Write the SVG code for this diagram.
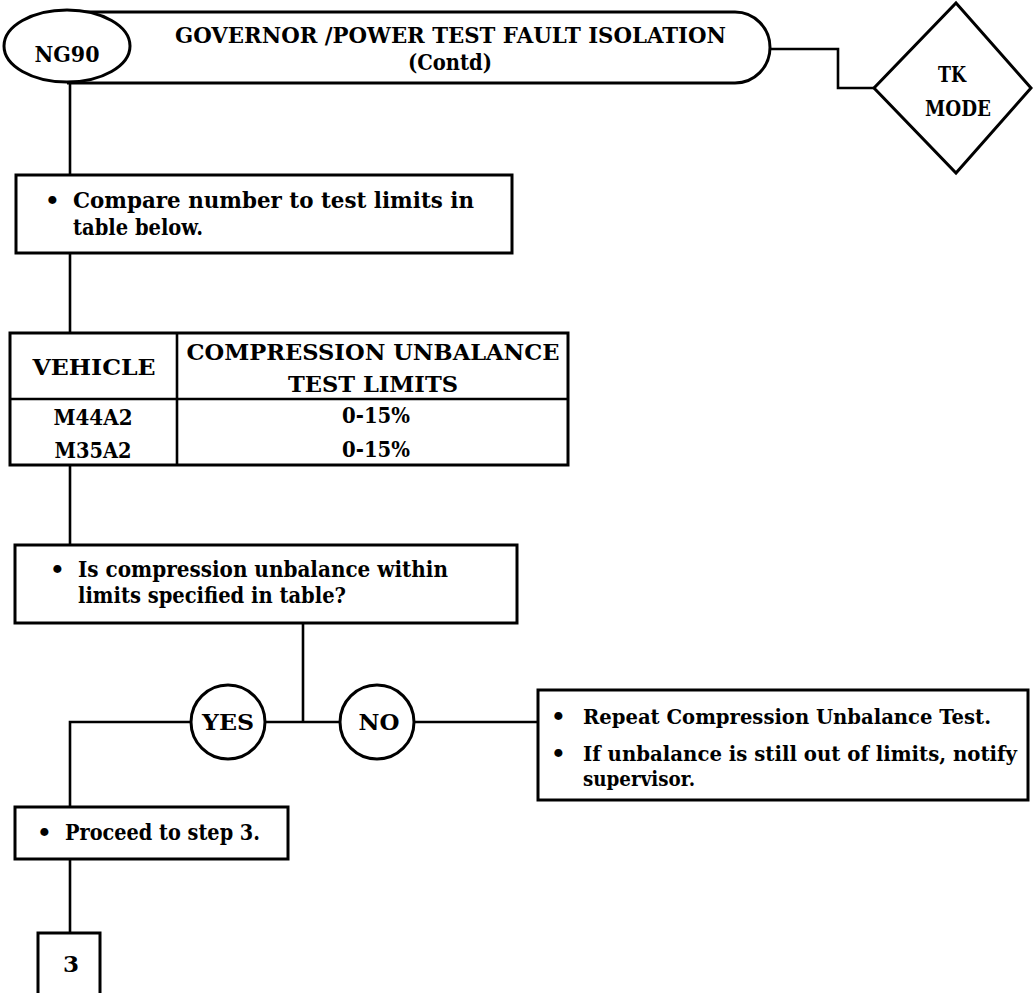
<svg xmlns="http://www.w3.org/2000/svg" width="1033" height="993" viewBox="0 0 1033 993">
<style>
.shape{fill:#fff;stroke:#000;stroke-width:3}
.line{fill:none;stroke:#000;stroke-width:2.6}
text{font-family:"DejaVu Serif","Liberation Serif",serif;font-weight:bold;fill:#000}
.t{font-size:23px}
.h{font-size:23px}
.r{font-size:20px}
.c{text-anchor:middle}
</style>
<rect width="1033" height="993" fill="#fff"/>
<g id="connectors">
<path class="line" d="M70 82V175"/>
<path class="line" d="M70 253V333"/>
<path class="line" d="M70 465V545"/>
<path class="line" d="M303 623V722"/>
<path class="line" d="M265 722H340"/>
<path class="line" d="M191 722H70V807"/>
<path class="line" d="M414 722H538"/>
<path class="line" d="M70 859V933"/>
<path class="line" d="M770 49H838V88H874"/>
</g>
<g id="header">
<path class="shape" d="M67 12H735A35 35.5 0 0 1 735 83H67"/>
<text class="h" x="175" y="43" textLength="551" lengthAdjust="spacingAndGlyphs">GOVERNOR /POWER TEST FAULT ISOLATION</text>
<text class="t c" x="450" y="70" textLength="84" lengthAdjust="spacingAndGlyphs">(Contd)</text>
</g>
<g id="ng90">
<ellipse class="shape" cx="67" cy="46" rx="63" ry="36"/>
<text class="h c" x="67" y="62" textLength="65" lengthAdjust="spacingAndGlyphs">NG90</text>
</g>
<g id="tk-mode">
<polygon class="shape" points="956,3 1031,88 956,173 874,88"/>
<text class="t c" x="952" y="82" textLength="28" lengthAdjust="spacingAndGlyphs">TK</text>
<text class="t c" x="958" y="116" textLength="66" lengthAdjust="spacingAndGlyphs">MODE</text>
</g>
<g id="compare">
<rect class="shape" x="16" y="175" width="496" height="78"/>
<text class="t" x="45" y="208">•</text>
<text class="t" x="73" y="208" textLength="401" lengthAdjust="spacingAndGlyphs">Compare number to test limits in</text>
<text class="t" x="73" y="235" textLength="130" lengthAdjust="spacingAndGlyphs">table below.</text>
</g>
<g id="table">
<rect class="shape" x="10" y="333" width="558" height="132"/>
<path class="line" d="M177 333V465M10 399H568"/>
<text class="h c" x="94" y="375" textLength="123" lengthAdjust="spacingAndGlyphs">VEHICLE</text>
<text class="h c" x="373" y="360" textLength="373" lengthAdjust="spacingAndGlyphs">COMPRESSION UNBALANCE</text>
<text class="h c" x="373" y="392" textLength="170" lengthAdjust="spacingAndGlyphs">TEST LIMITS</text>
<text class="t c" x="93" y="425" textLength="79" lengthAdjust="spacingAndGlyphs">M44A2</text>
<text class="t c" x="93" y="458" textLength="77" lengthAdjust="spacingAndGlyphs">M35A2</text>
<text class="t c" x="376" y="423" textLength="68" lengthAdjust="spacingAndGlyphs">0-15%</text>
<text class="t c" x="376" y="457" textLength="68" lengthAdjust="spacingAndGlyphs">0-15%</text>
</g>
<g id="question">
<rect class="shape" x="15" y="545" width="502" height="78"/>
<text class="t" x="50" y="577">•</text>
<text class="t" x="78" y="577" textLength="370" lengthAdjust="spacingAndGlyphs">Is compression unbalance within</text>
<text class="t" x="78" y="603" textLength="268" lengthAdjust="spacingAndGlyphs">limits specified in table?</text>
</g>
<g id="yes">
<circle class="shape" cx="228" cy="722" r="37"/>
<text class="t c" x="228" y="730" textLength="52" lengthAdjust="spacingAndGlyphs">YES</text>
</g>
<g id="no">
<circle class="shape" cx="377" cy="722" r="37"/>
<text class="t c" x="379" y="730" textLength="41" lengthAdjust="spacingAndGlyphs">NO</text>
</g>
<g id="repeat">
<rect class="shape" x="538" y="690" width="490" height="110"/>
<text class="t" x="551" y="724">•</text>
<text class="r" x="583" y="724" textLength="408" lengthAdjust="spacingAndGlyphs">Repeat Compression Unbalance Test.</text>
<text class="t" x="551" y="761">•</text>
<text class="r" x="583" y="761" textLength="434" lengthAdjust="spacingAndGlyphs">If unbalance is still out of limits, notify</text>
<text class="r" x="583" y="786" textLength="112" lengthAdjust="spacingAndGlyphs">supervisor.</text>
</g>
<g id="proceed">
<rect class="shape" x="15" y="807" width="273" height="52"/>
<text class="t" x="37" y="840">•</text>
<text class="t" x="65" y="840" textLength="195" lengthAdjust="spacingAndGlyphs">Proceed to step 3.</text>
</g>
<g id="step3">
<rect class="shape" x="38" y="933" width="62" height="64"/>
<text class="t c" x="71" y="972">3</text>
</g>
</svg>
